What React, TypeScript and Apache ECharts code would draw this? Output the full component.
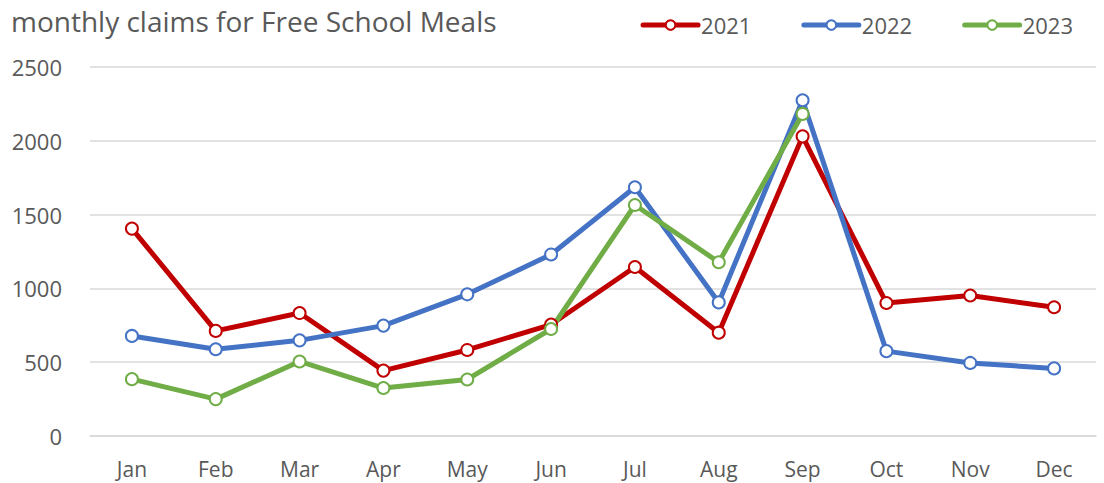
import React, { useEffect, useRef } from "react";
import * as echarts from "echarts";

const months = ["Jan", "Feb", "Mar", "Apr", "May", "Jun", "Jul", "Aug", "Sep", "Oct", "Nov", "Dec"];
const y2021 = [1405, 712, 833, 443, 583, 755, 1145, 700, 2030, 901, 952, 872];
const y2022 = [678, 588, 648, 748, 960, 1230, 1685, 905, 2275, 575, 495, 458];
const y2023 = [385, 250, 505, 325, 383, 725, 1565, 1177, 2182];
const seriesNames = ["2021", "2022", "2023"];
const colors = ["#c00000", "#4472c4", "#70ad47"];
const yTicks = [0, 500, 1000, 1500, 2000, 2500];

const FONT = "Open Sans";

export default function App() {
  const ref = useRef<HTMLDivElement>(null);
  useEffect(() => {
    if (!ref.current) return;
    const chart = echarts.init(ref.current, undefined, { renderer: "svg" });
    const data = [y2021, y2022, y2023];
    chart.setOption({
      animation: false,
      textStyle: { fontFamily: FONT },
      title: {
        text: "monthly claims for Free School Meals",
        left: 11,
        top: 4,
        padding: 0,
        textStyle: { fontFamily: FONT, fontSize: 28, lineHeight: 34, fontWeight: "normal", color: "#595959" },
      },
      legend: {
        right: 31,
        top: 14,
        padding: 0,
        itemWidth: 55,
        itemHeight: 12,
        itemGap: 50,
        lineStyle: { width: 5 },
        textStyle: { fontFamily: FONT, fontSize: 22, color: "#595959", padding: [0, 0, 0, -2] },
        data: seriesNames,
      },
      grid: { left: 90, right: 8, top: 67, bottom: 47 },
      xAxis: {
        type: "category",
        data: months,
        boundaryGap: true,
        axisLine: { lineStyle: { color: "#d9d9d9", width: 1.5 } },
        axisTick: { show: false },
        axisLabel: { fontFamily: FONT, fontSize: 21, color: "#595959", margin: 22 },
      },
      yAxis: {
        type: "value",
        min: yTicks[0],
        max: yTicks[yTicks.length - 1],
        interval: 500,
        axisLine: { show: false },
        axisTick: { show: false },
        splitLine: { lineStyle: { color: "#d9d9d9", width: 1.5 } },
        axisLabel: {
          fontFamily: FONT,
          fontSize: 22,
          color: "#595959",
          margin: 28,
          formatter: (v: number) => String(v),
        },
      },
      series: seriesNames.map((name, i) => ({
        name,
        type: "line",
        data: data[i],
        color: colors[i],
        symbol: "circle",
        symbolSize: 12,
        showAllSymbol: true,
        lineStyle: { width: 5, color: colors[i], cap: "round", join: "round" },
        itemStyle: { color: "#ffffff", borderColor: colors[i], borderWidth: 2 },
      })),
    });
    return () => chart.dispose();
  }, []);
  return <div ref={ref} style={{ width: 1104, height: 483, position: "absolute", left: 0, top: 0 }} />;
}
